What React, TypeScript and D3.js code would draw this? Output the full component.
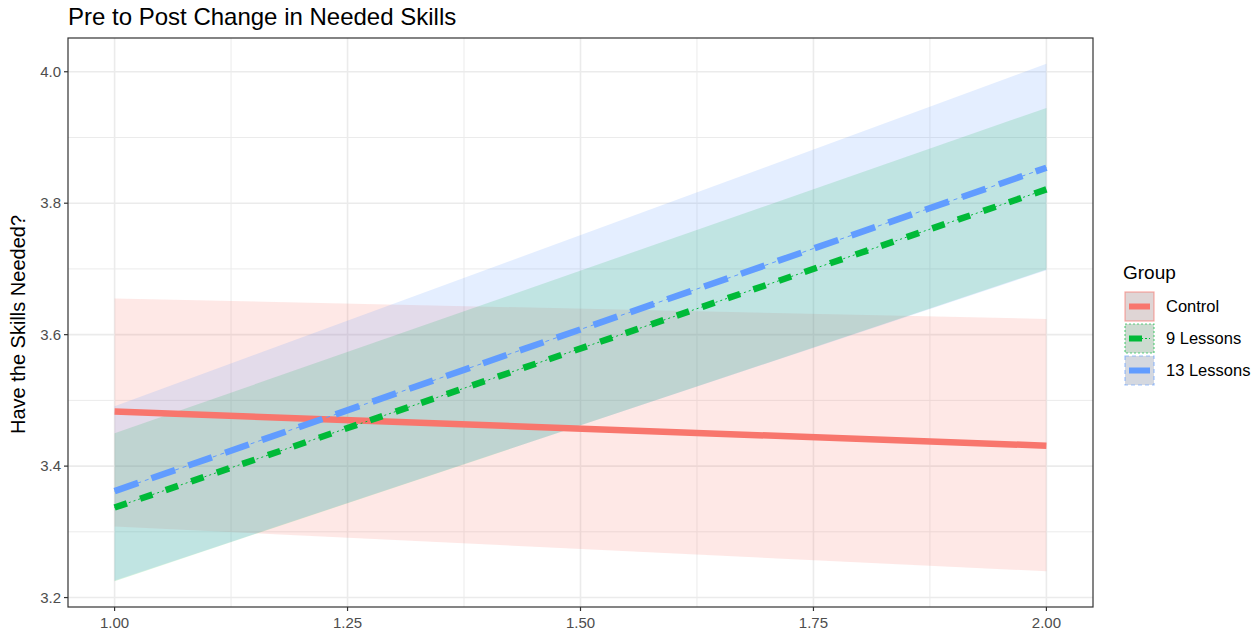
import React from "react";
import * as d3 from "d3";

// Fitted pre/post values per group, with confidence band limits
const timePoints = [1, 2];
const groupNames = ["Control", "9 Lessons", "13 Lessons"];
const groupColors = ["#F8766D", "#00BA38", "#619CFF"];

const controlFit = [3.483, 3.431];
const controlLower = [3.308, 3.24];
const controlUpper = [3.655, 3.624];

const nineFit = [3.337, 3.821];
const nineLower = [3.225, 3.699];
const nineUpper = [3.45, 3.945];

const thirteenFit = [3.362, 3.854];
const thirteenLower = [3.226, 3.698];
const thirteenUpper = [3.491, 4.012];

const xTicks = [1, 1.25, 1.5, 1.75, 2];
const xMinor = [1.125, 1.375, 1.625, 1.875];
const yTicks = [3.2, 3.4, 3.6, 3.8, 4.0];
const yMinor = [3.3, 3.5, 3.7, 3.9];

const W = 1257;
const H = 634;
const panel = { left: 68, right: 1093, top: 38, bottom: 607 };
const FONT = "'Liberation Sans', Arial, sans-serif";

const series = [
  { name: groupNames[0], color: groupColors[0], fit: controlFit, lo: controlLower, hi: controlUpper },
  { name: groupNames[1], color: groupColors[1], fit: nineFit, lo: nineLower, hi: nineUpper },
  { name: groupNames[2], color: groupColors[2], fit: thirteenFit, lo: thirteenLower, hi: thirteenUpper },
];

export default function App() {
  const allY = series.flatMap((s) => [...s.lo, ...s.hi]);
  const yMin = d3.min(allY)!;
  const yMax = d3.max(allY)!;
  const yPad = (yMax - yMin) * 0.05;
  const x = d3.scaleLinear().domain([0.95, 2.05]).range([panel.left, panel.right]);
  const y = d3.scaleLinear().domain([yMin - yPad, yMax + yPad]).range([panel.bottom, panel.top]);

  const line = d3
    .line<number>()
    .x((_, i) => x(timePoints[i]))
    .y((d) => y(d));

  const areaFor = (lo: number[], hi: number[]) =>
    d3
      .area<number>()
      .x((d) => x(d))
      .y0((_, i) => y(lo[i]))
      .y1((_, i) => y(hi[i]))(timePoints) || "";

  const grid = "#EBEBEB";
  const legX = 1125;
  const legY = [292, 324, 356];

  return (
    <svg
      width={W}
      height={H}
      style={{ position: "absolute", left: 0, top: 0, background: "#fff" }}
      fontFamily={FONT}
    >
      <rect x={0} y={0} width={W} height={H} fill="#fff" />
      {/* grid */}
      {xMinor.map((v) => (
        <line key={"xm" + v} x1={x(v)} x2={x(v)} y1={panel.top} y2={panel.bottom} stroke={grid} strokeWidth={1} />
      ))}
      {yMinor.map((v) => (
        <line key={"ym" + v} x1={panel.left} x2={panel.right} y1={y(v)} y2={y(v)} stroke={grid} strokeWidth={1} />
      ))}
      {xTicks.map((v) => (
        <line key={"xg" + v} x1={x(v)} x2={x(v)} y1={panel.top} y2={panel.bottom} stroke={grid} strokeWidth={1.6} />
      ))}
      {yTicks.map((v) => (
        <line key={"yg" + v} x1={panel.left} x2={panel.right} y1={y(v)} y2={y(v)} stroke={grid} strokeWidth={1.6} />
      ))}

      {/* confidence bands */}
      {series.map((s) => (
        <path key={"band" + s.name} d={areaFor(s.lo, s.hi)} fill={s.color} fillOpacity={0.17} />
      ))}

      {/* fitted lines */}
      <path d={line(controlFit) || ""} fill="none" stroke={groupColors[0]} strokeWidth={6.5} />
      <path d={line(nineFit) || ""} fill="none" stroke={groupColors[1]} strokeWidth={1} strokeDasharray="2,3" />
      <path d={line(nineFit) || ""} fill="none" stroke={groupColors[1]} strokeWidth={6.5} strokeDasharray="13,14" />
      <path d={line(thirteenFit) || ""} fill="none" stroke={groupColors[2]} strokeWidth={1} strokeDasharray="4,4" />
      <path d={line(thirteenFit) || ""} fill="none" stroke={groupColors[2]} strokeWidth={6.5} strokeDasharray="25,14" />

      {/* panel border */}
      <rect
        x={panel.left}
        y={panel.top}
        width={panel.right - panel.left}
        height={panel.bottom - panel.top}
        fill="none"
        stroke="#333333"
        strokeWidth={1.2}
      />

      {/* y axis */}
      {yTicks.map((v) => (
        <g key={"yt" + v}>
          <line x1={panel.left - 4} x2={panel.left} y1={y(v)} y2={y(v)} stroke="#333333" strokeWidth={1.2} />
          <text x={panel.left - 7} y={y(v)} dy="0.35em" textAnchor="end" fontSize={15} fill="#4D4D4D">
            {v.toFixed(1)}
          </text>
        </g>
      ))}
      {/* x axis */}
      {xTicks.map((v) => (
        <g key={"xt" + v}>
          <line x1={x(v)} x2={x(v)} y1={panel.bottom} y2={panel.bottom + 4} stroke="#333333" strokeWidth={1.2} />
          <text x={x(v)} y={panel.bottom + 21} textAnchor="middle" fontSize={15} fill="#4D4D4D">
            {v.toFixed(2)}
          </text>
        </g>
      ))}

      <text
        transform={`translate(25, ${(panel.top + panel.bottom) / 2 + 2}) rotate(-90)`}
        textAnchor="middle"
        fontSize={20}
        fill="#000"
      >
        Have the Skills Needed?
      </text>

      <text x={68} y={25} fontSize={24} fill="#000">
        Pre to Post Change in Needed Skills
      </text>

      {/* legend */}
      <text x={1123} y={279} fontSize={19} fill="#000">
        Group
      </text>
      {series.map((s, i) => {
        const ky = legY[i];
        const borderDash = i === 0 ? undefined : i === 1 ? "2,2" : "4,3";
        return (
          <g key={"leg" + s.name}>
            <rect x={legX} y={ky} width={29} height={29} fill="#DEDEDE" />
            <rect x={legX} y={ky} width={29} height={29} fill={s.color} fillOpacity={0.08} stroke={s.color} strokeOpacity={0.6} strokeWidth={1.2} strokeDasharray={borderDash} />
            {i === 0 && (
              <line x1={legX + 4} x2={legX + 25} y1={ky + 14.5} y2={ky + 14.5} stroke={s.color} strokeWidth={6} />
            )}
            {i === 1 && (
              <g>
                <line x1={legX + 4} x2={legX + 25} y1={ky + 14.5} y2={ky + 14.5} stroke={s.color} strokeWidth={1} strokeDasharray="2,2" />
                <line x1={legX + 4} x2={legX + 17} y1={ky + 14.5} y2={ky + 14.5} stroke={s.color} strokeWidth={6} />
              </g>
            )}
            {i === 2 && (
              <line x1={legX + 4} x2={legX + 25} y1={ky + 14.5} y2={ky + 14.5} stroke={s.color} strokeWidth={6} />
            )}
            <text x={1166} y={ky + 14.5} dy="0.35em" fontSize={16.5} fill="#000">
              {s.name}
            </text>
          </g>
        );
      })}
    </svg>
  );
}
